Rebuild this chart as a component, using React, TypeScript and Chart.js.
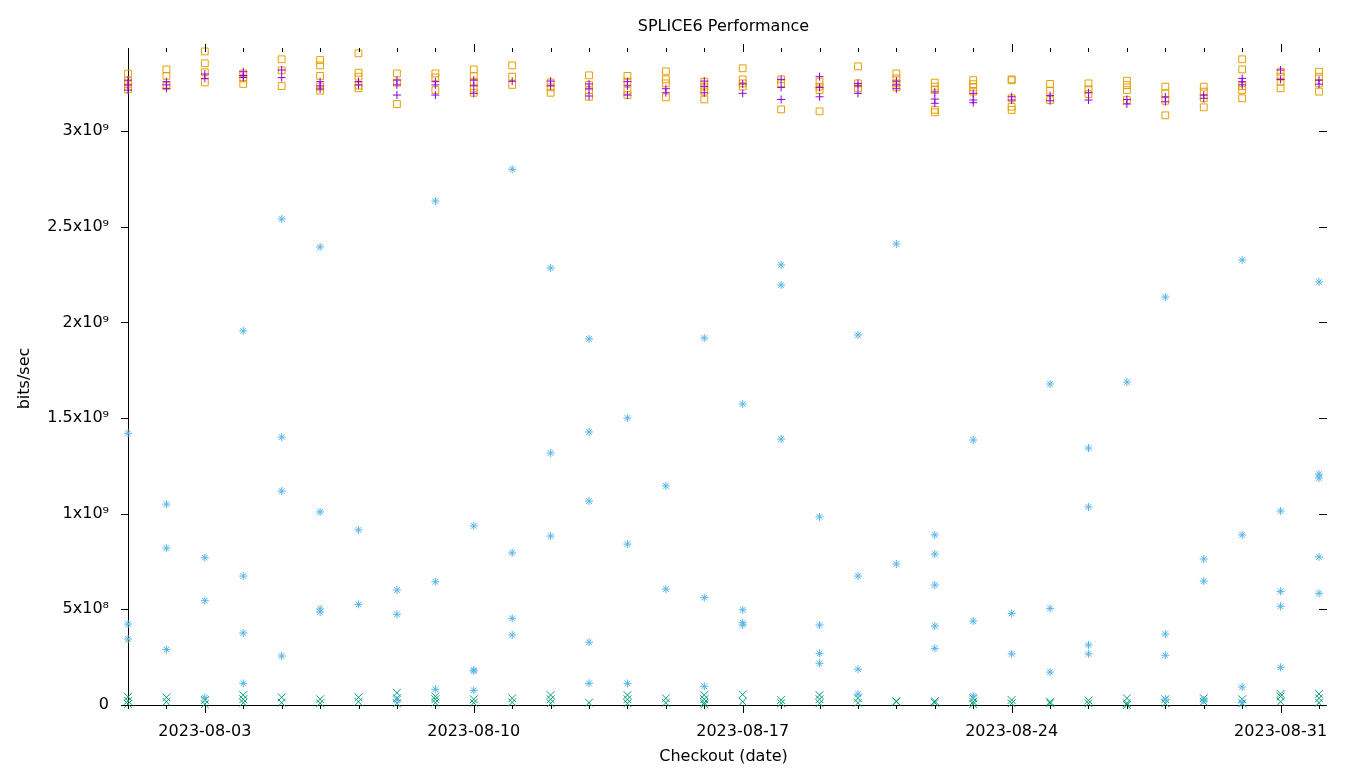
import React, { useEffect, useRef } from 'react';
import { Chart, registerables } from 'chart.js';

Chart.register(...registerables);

const FONT_FAMILY = "'DejaVu Sans', sans-serif";
const TITLE = 'SPLICE6 Performance';
const X_TITLE = 'Checkout (date)';
const Y_TITLE = 'bits/sec';

// x = day of August 2023 (32 = 2023-09-01)
const dayOfMonth = [1, 2, 3, 4, 5, 6, 7, 8, 9, 10, 11, 12, 13, 14, 15, 16, 17, 18, 19, 20, 21, 22, 23, 24, 25, 26, 27, 28, 29, 30, 31, 32];
const majorDays = [3, 10, 17, 24, 31];
const majorLabels = ['2023-08-03', '2023-08-10', '2023-08-17', '2023-08-24', '2023-08-31'];
const X_MIN = 1;
const X_MAX = 32;

// y in units of 10^9 bits/sec
const yTickValues = [0, 0.5, 1, 1.5, 2, 2.5, 3];
const yTickLabels = ['0', '5x10⁸', '1x10⁹', '1.5x10⁹', '2x10⁹', '2.5x10⁹', '3x10⁹'];
const Y_MIN = 0;
const Y_MAX = 3.413;

// one list of measurements per day (index 0 = day 1)
const purpleRuns: number[][] = [
  [3.266, 3.241, 3.214], [3.258, 3.241, 3.223], [3.298, 3.275], [3.31, 3.29, 3.28],
  [3.319, 3.279], [3.258, 3.236, 3.22], [3.258, 3.241], [3.266, 3.241, 3.188],
  [3.258, 3.241, 3.188], [3.266, 3.236, 3.197], [3.261], [3.261, 3.236],
  [3.246, 3.22, 3.183], [3.258, 3.236, 3.188], [3.221, 3.2], [3.261, 3.232, 3.2],
  [3.246, 3.197], [3.27, 3.228, 3.165], [3.284, 3.228, 3.179], [3.249, 3.236, 3.197],
  [3.261, 3.241, 3.221], [3.204, 3.167, 3.145], [3.197, 3.162, 3.148], [3.179, 3.162],
  [3.185, 3.158], [3.2, 3.162], [3.165, 3.141], [3.178, 3.153],
  [3.188, 3.171], [3.275, 3.258, 3.241], [3.319, 3.27], [3.266, 3.245],
];

const orangeRuns: number[][] = [
  [3.3, 3.263, 3.244, 3.218], [3.322, 3.288, 3.235], [3.416, 3.354, 3.307, 3.254], [3.301, 3.275, 3.246],
  [3.375, 3.317, 3.235], [3.371, 3.343, 3.288, 3.232, 3.211], [3.406, 3.305, 3.284, 3.237, 3.223], [3.301, 3.253, 3.141],
  [3.301, 3.28, 3.214], [3.322, 3.288, 3.258, 3.223, 3.2], [3.343, 3.284, 3.241], [3.254, 3.228, 3.2],
  [3.291, 3.241, 3.214, 3.179], [3.288, 3.258, 3.211, 3.188], [3.312, 3.27, 3.249, 3.176], [3.258, 3.232, 3.206, 3.165],
  [3.328, 3.27, 3.249, 3.232], [3.27, 3.249, 3.113], [3.258, 3.232, 3.214, 3.103], [3.338, 3.249, 3.223],
  [3.301, 3.275, 3.249, 3.228], [3.253, 3.232, 3.214, 3.111, 3.098], [3.266, 3.245, 3.228, 3.206], [3.27, 3.265, 3.171, 3.127, 3.11],
  [3.246, 3.211, 3.162], [3.249, 3.218, 3.193], [3.263, 3.24, 3.214, 3.162], [3.232, 3.197, 3.158, 3.082],
  [3.232, 3.206, 3.171, 3.124], [3.375, 3.322, 3.235, 3.214, 3.171], [3.31, 3.284, 3.258, 3.223], [3.31, 3.284, 3.249, 3.206],
];

const blueRuns: number[][] = [
  [1.42, 0.423, 0.345], [1.05, 0.82, 0.29], [0.77, 0.545, 0.038], [1.955, 0.674, 0.376, 0.113],
  [2.54, 1.4, 1.118, 0.256], [2.394, 1.009, 0.502, 0.486], [0.915, 0.526], [0.601, 0.474, 0.026],
  [2.634, 0.644, 0.082], [0.936, 0.183, 0.178, 0.077], [2.8, 0.795, 0.453, 0.366], [2.284, 1.317, 0.883],
  [1.913, 1.427, 1.066, 0.328, 0.113], [1.5, 0.841, 0.113], [1.145, 0.606], [1.918, 0.561, 0.098],
  [1.573, 0.497, 0.43, 0.418], [2.3, 2.195, 1.39], [0.983, 0.418, 0.27, 0.218], [1.934, 0.674, 0.187, 0.057],
  [2.41, 0.737], [0.889, 0.789, 0.627, 0.413, 0.296], [1.385, 0.439, 0.047], [0.479, 0.267],
  [1.678, 0.505, 0.172], [1.343, 1.035, 0.314, 0.267], [1.688], [2.132, 0.371, 0.26, 0.031],
  [0.763, 0.648, 0.026], [2.326, 0.889, 0.094, 0.012], [1.014, 0.594, 0.516, 0.197], [2.211, 1.207, 1.186, 0.774, 0.584],
];

const greenRuns: number[][] = [
  [0.043, 0.022, 0.005], [0.04, 0.017], [0.026, 0.004], [0.052, 0.03, 0.012],
  [0.04, 0.012], [0.03, 0.009], [0.04, 0.017], [0.064, 0.035, 0.009],
  [0.045, 0.03, 0.012], [0.03, 0.012], [0.035, 0.014], [0.052, 0.03, 0.009],
  [0.012], [0.052, 0.03, 0.009], [0.035, 0.012], [0.052, 0.03, 0.012, 0.003],
  [0.055, 0.017], [0.026, 0.009], [0.052, 0.03, 0.009], [0.035, 0.012],
  [0.02, 0.017], [0.02, 0.012], [0.035, 0.017, 0.005], [0.026, 0.009],
  [0.017, 0.009], [0.024, 0.009], [0.035, 0.009, 0.0], [0.03, 0.009],
  [0.035, 0.017], [0.03, 0.009], [0.058, 0.045, 0.017], [0.058, 0.035, 0.012],
];

const PURPLE = '#9400D3';
const ORANGE = '#E69F00';
const BLUE = '#56B4E9';
const GREEN = '#009E73';

function toPoints(runs: number[][]) {
  const pts: { x: number; y: number }[] = [];
  runs.forEach((vals, i) => {
    vals.forEach((v) => pts.push({ x: dayOfMonth[i], y: v }));
  });
  return pts;
}

const tickMarks = {
  id: 'tickMarks',
  afterDraw(chart: any) {
    const { ctx, chartArea: a, scales } = chart;
    const xs = scales.x;
    const ys = scales.y;
    ctx.save();
    ctx.strokeStyle = '#000';
    ctx.lineWidth = 1;
    ctx.beginPath();
    dayOfMonth.forEach((d) => {
      const px = Math.round(xs.getPixelForValue(d)) + 0.5;
      const len = majorDays.includes(d) ? 8 : 4;
      ctx.moveTo(px, a.bottom);
      ctx.lineTo(px, a.bottom + len);
      ctx.moveTo(px, a.top);
      ctx.lineTo(px, a.top - len);
    });
    yTickValues.forEach((v) => {
      const py = Math.round(ys.getPixelForValue(v)) + 0.5;
      ctx.moveTo(a.left - 7, py);
      ctx.lineTo(a.left, py);
      ctx.moveTo(a.right, py);
      ctx.lineTo(a.right + 8, py);
    });
    // bottom border continues a little past the last day
    const by = Math.round(a.bottom) + 0.5;
    ctx.moveTo(a.right, by);
    ctx.lineTo(a.right + 8, by);
    ctx.stroke();
    ctx.restore();
  },
};

export default function App() {
  const canvasRef = useRef<HTMLCanvasElement | null>(null);

  useEffect(() => {
    if (!canvasRef.current) return;
    Chart.defaults.color = '#000';
    Chart.defaults.font.family = FONT_FAMILY;
    const font = { family: FONT_FAMILY, size: 16 };

    const chart = new Chart(canvasRef.current, {
      type: 'scatter',
      data: {
        datasets: [
          {
            label: 'purple',
            data: toPoints(purpleRuns),
            pointStyle: 'cross',
            pointRadius: 4,
            borderColor: PURPLE,
            backgroundColor: PURPLE,
            borderWidth: 1,
            clip: false,
          },
          {
            label: 'orange',
            data: toPoints(orangeRuns),
            pointStyle: 'rect',
            pointRadius: 4.8,
            borderColor: ORANGE,
            backgroundColor: 'rgba(0,0,0,0)',
            borderWidth: 1,
            clip: false,
          },
          {
            label: 'blue',
            data: toPoints(blueRuns),
            pointStyle: 'star',
            pointRadius: 4,
            borderColor: BLUE,
            backgroundColor: BLUE,
            borderWidth: 1,
            clip: false,
          },
          {
            label: 'green',
            data: toPoints(greenRuns),
            pointStyle: 'crossRot',
            pointRadius: 5.5,
            borderColor: GREEN,
            backgroundColor: GREEN,
            borderWidth: 1,
            clip: false,
          },
        ] as any,
      },
      options: {
        responsive: false,
        maintainAspectRatio: false,
        animation: false,
        devicePixelRatio: 1,
        layout: { padding: 0 },
        plugins: {
          legend: { display: false },
          tooltip: { enabled: false },
          title: { display: false },
        },
        scales: {
          x: {
            type: 'linear',
            position: 'bottom',
            min: X_MIN,
            max: X_MAX,
            afterBuildTicks: (s: any) => {
              s.ticks = dayOfMonth.map((v) => ({ value: v }));
            },
            afterFit: (s: any) => {
              s.height = 63;
            },
            grid: { display: false, drawTicks: false },
            border: { display: true, color: '#000', width: 1 },
            ticks: {
              autoSkip: false,
              maxRotation: 0,
              minRotation: 0,
              padding: 17,
              color: '#000',
              font,
              callback: (v: any) => {
                const i = majorDays.indexOf(Number(v));
                return i >= 0 ? majorLabels[i] : '';
              },
            },
            title: { display: true, text: X_TITLE, color: '#000', font, padding: { top: 0, bottom: 2 } },
          },
          x2: {
            type: 'linear',
            position: 'top',
            min: X_MIN,
            max: X_MAX,
            afterFit: (s: any) => {
              s.height = 52;
            },
            grid: { display: false, drawTicks: false },
            border: { display: false },
            ticks: { display: false },
            title: { display: true, text: TITLE, color: '#000', font, padding: { top: 17, bottom: 0 } },
          },
          y: {
            type: 'linear',
            position: 'left',
            min: Y_MIN,
            max: Y_MAX,
            afterBuildTicks: (s: any) => {
              s.ticks = yTickValues.map((v) => ({ value: v }));
            },
            afterFit: (s: any) => {
              s.width = 128;
            },
            grid: { display: false, drawTicks: false },
            border: { display: true, color: '#000', width: 1 },
            ticks: {
              padding: 19,
              color: '#000',
              font,
              callback: (v: any) => {
                const i = yTickValues.indexOf(Number(v));
                return i >= 0 ? yTickLabels[i] : '';
              },
            },
            title: { display: true, text: Y_TITLE, color: '#000', font, padding: { top: 15, bottom: 0 } },
          },
          y2: {
            type: 'linear',
            position: 'right',
            min: Y_MIN,
            max: Y_MAX,
            afterFit: (s: any) => {
              s.width = 41;
            },
            grid: { display: false, drawTicks: false },
            border: { display: false },
            ticks: { display: false },
          },
        } as any,
      },
      plugins: [tickMarks],
    });

    return () => {
      chart.destroy();
    };
  }, []);

  return (
    <div style={{ position: 'fixed', left: 0, top: 0, width: 1360, height: 768, background: '#fff' }}>
      <canvas ref={canvasRef} width={1360} height={768} style={{ display: 'block', width: 1360, height: 768 }} />
    </div>
  );
}
